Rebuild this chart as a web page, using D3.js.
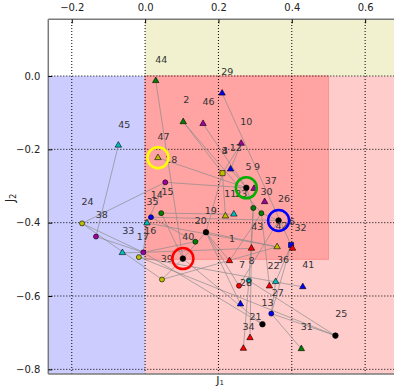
<!DOCTYPE html>
<html>
<head>
<meta charset="utf-8">
<script src="https://cdn.jsdelivr.net/npm/d3@7"></script>
<style>
  html, body { margin: 0; padding: 0; background: #fff; }
  svg { display: block; font-family: "DejaVu Sans", sans-serif; }
</style>
</head>
<body>
<svg id="chart" width="394" height="387"></svg>
<script>
// Axis ticks
const xTicks = [-0.2, 0.0, 0.2, 0.4, 0.6];
const yTicks = [0.0, -0.2, -0.4, -0.6, -0.8];

// Points in (J1, J2) space
const markerIds = ["T44","T2","T46","T29","T10","T47","S3","T5","Kg","Tp","T30","G1","G2","Kb","T19a","T19b","K20","G40","C15","C35","G14","T16","C24","C38","T45","T33","C17a","C17b","K39","C39b","T1a","T1b","S32","T32b","T7","C28","C28b","T22","T27","T41","T13","C13","K21","K25","T34a","T34b","T31"];
const markerJ1  = [0.029,0.104,0.158,0.210,0.262,0.035,0.211,0.233,0.276,0.297,0.326,0.295,0.317,0.364,0.219,0.242,0.166,0.137,0.055,0.016,0.044,0.005,-0.172,-0.134,-0.073,-0.062,-0.017,-0.005,0.103,0.046,0.290,0.360,0.398,0.402,0.230,0.256,0.283,0.339,0.356,0.430,0.260,0.344,0.320,0.519,0.286,0.268,0.426];
const markerJ2  = [-0.013,-0.125,-0.130,-0.047,-0.184,-0.223,-0.265,-0.254,-0.305,-0.307,-0.343,-0.360,-0.374,-0.394,-0.382,-0.377,-0.426,-0.452,-0.290,-0.385,-0.374,-0.401,-0.402,-0.438,-0.189,-0.482,-0.494,-0.481,-0.498,-0.555,-0.470,-0.466,-0.461,-0.470,-0.504,-0.572,-0.558,-0.573,-0.561,-0.575,-0.622,-0.648,-0.677,-0.708,-0.714,-0.743,-0.744];
// Marker class: shape + colour code
const markerClass = ["g^","g^","m^","b^","m^","y^","ys","b^","ko","m^","m^","go","go","ko","y^","c^","ko","go","mo","bo","go","c^","yo","mo","c^","c^","yo","mo","ko","yo","r^","y^","bs","r^","r^","ro","co","r^","c^","b^","b^","bo","ko","ko","r^","r^","g^"];

// Connections between points
const linkFrom = ["T44","T2","T2","T46","T29","T10","T10","T5","T47","C15","S3","S3","Kg","G1","G1","G2","G2","G2","Kb","C35","T19b","K20","K20","K20","K20","K20","C35","G14","C15","C15","T16","T16","C24","C24","T45","C38","T33","C17b","C17b","C17b","C17a","C17a","K39","K39","C39b","S32","S32","T27","C13","C13","C28b","C28b","T1a"];
const linkTo   = ["K39","G2","S3","Kg","S32","S3","T5","Kg","Kg","Kg","K20","T19a","G1","T1a","C28b","T7","T22","Kb","C28","Kb","G14","T13","T7","C28","K39","T1b","G40","K39","T16","C24","C17b","T1b","C17b","C39b","C38","C17b","C17b","G40","T1a","K21","K25","T41","C39b","K21","T1b","C13","T27","C13","K25","T31","K25","T34b","T34a"];

// Point labels
const labelText = ["44","29","2","46","10","45","47","12","3","4","18","5","9","37","14","15","11","23","30","26","35","24","38","19","20","33","16","17","43","42","6","32","40","1","39","8","7","22","36","41","28","27","13","25","21","31","34"];
const labelJ1   = [0.044,0.224,0.112,0.173,0.276,-0.057,0.050,0.247,0.217,0.217,0.071,0.282,0.305,0.343,0.032,0.061,0.232,0.262,0.331,0.379,0.020,-0.157,-0.118,0.179,0.152,-0.046,0.014,-0.006,0.306,0.372,0.400,0.424,0.118,0.237,0.059,0.290,0.264,0.350,0.376,0.445,0.275,0.362,0.334,0.535,0.301,0.441,0.282];
const labelJ2   = [0.044,0.012,-0.065,-0.070,-0.125,-0.131,-0.165,-0.194,-0.203,-0.203,-0.229,-0.247,-0.247,-0.286,-0.323,-0.315,-0.320,-0.320,-0.316,-0.335,-0.343,-0.343,-0.377,-0.367,-0.395,-0.422,-0.420,-0.438,-0.411,-0.409,-0.397,-0.413,-0.437,-0.444,-0.499,-0.503,-0.515,-0.517,-0.501,-0.515,-0.563,-0.590,-0.618,-0.647,-0.657,-0.682,-0.682];

// Highlighted points
const highlightIds = ["T47","Kg","Kb","K39"];
const highlightColors = ["#ffff00","#00b000","#0000ff","#ff0000"];

// Region boundaries
const j1Split = 0.0, j2Split = 0.0;
const boxJ1 = 0.5, boxJ2 = -0.5;

const svg = d3.select("#chart");
const x = d3.scaleLinear().domain([-0.264, 0.70]).range([48.3, 401.8]);
const y = d3.scaleLinear().domain([-0.8127, 0.1546]).range([374, 19.3]);
const [x0, x1] = x.domain(), [y0, y1] = y.domain();

svg.append("clipPath").attr("id", "plot").append("rect")
  .attr("x", x(x0)).attr("y", y(y1)).attr("width", x(x1) - x(x0)).attr("height", y(y0) - y(y1));
const plot = svg.append("g").attr("clip-path", "url(#plot)");

function region(a, b, c, d, fill, stroke) {
  plot.append("rect")
    .attr("x", x(Math.min(a, b))).attr("width", Math.abs(x(b) - x(a)))
    .attr("y", y(Math.max(c, d))).attr("height", Math.abs(y(d) - y(c)))
    .attr("fill", fill).attr("stroke", stroke || "none").attr("stroke-width", 1);
}
region(j1Split, x1, j2Split, y1, "#f1f1cf");
region(x0, j1Split, y0, j2Split, "#ccccff");
region(j1Split, x1, y0, j2Split, "#ffcccc");
region(j1Split, boxJ1, boxJ2, j2Split, "#ffa3a3", "#ff9090");

// dotted grid
const grid = plot.append("g").attr("stroke", "#000").attr("stroke-width", 1).attr("stroke-dasharray", "1,2");
xTicks.forEach(t => grid.append("line").attr("x1", x(t)).attr("x2", x(t)).attr("y1", y(y0)).attr("y2", y(y1)));
yTicks.forEach(t => grid.append("line").attr("y1", y(t)).attr("y2", y(t)).attr("x1", x(x0)).attr("x2", x(x1)));

// links
const idx = new Map(markerIds.map((id, i) => [id, i]));
const links = linkFrom.map((f, i) => [idx.get(f), idx.get(linkTo[i])]);
plot.append("g").selectAll("line").data(links).join("line")
  .attr("x1", d => x(markerJ1[d[0]])).attr("y1", d => y(markerJ2[d[0]]))
  .attr("x2", d => x(markerJ1[d[1]])).attr("y2", d => y(markerJ2[d[1]]))
  .attr("stroke", "#8a8a8a").attr("stroke-opacity", 0.85).attr("stroke-width", 0.8);

// markers
const colorMap = { g: "#008000", b: "#0000ff", m: "#a000a0", r: "#ff0000", c: "#00bfbf", y: "#bfbf00", k: "#000000" };
const pts = markerIds.map((id, i) => ({ id, j1: markerJ1[i], j2: markerJ2[i], cls: markerClass[i] }));
const mg = plot.append("g");
pts.forEach(p => {
  const col = colorMap[p.cls[0]], shape = p.cls[1];
  const cx = x(p.j1), cy = y(p.j2);
  if (shape === "^") {
    mg.append("path").attr("d", d3.symbol(d3.symbolTriangle, 18)())
      .attr("transform", `translate(${cx},${cy})`).attr("fill", col).attr("stroke", "#000").attr("stroke-width", 0.6);
  } else if (shape === "s") {
    mg.append("path").attr("d", d3.symbol(d3.symbolSquare, 26)())
      .attr("transform", `translate(${cx},${cy})`).attr("fill", col).attr("stroke", "#000").attr("stroke-width", 0.6);
  } else {
    mg.append("circle").attr("cx", cx).attr("cy", cy).attr("r", p.cls[0] === "k" ? 2.8 : 2.5)
      .attr("fill", col).attr("stroke", "#000").attr("stroke-width", 0.6);
  }
});

// labels
plot.append("g").selectAll("text").data(labelText).join("text")
  .attr("x", (d, i) => x(labelJ1[i])).attr("y", (d, i) => y(labelJ2[i]))
  .attr("text-anchor", "middle").attr("dominant-baseline", "central")
  .attr("font-size", 9.5).attr("fill", "#333").text(d => d);

// highlight rings
plot.append("g").selectAll("circle").data(highlightIds).join("circle")
  .attr("cx", d => x(markerJ1[idx.get(d)])).attr("cy", d => y(markerJ2[idx.get(d)]))
  .attr("r", 10.5).attr("fill", "none")
  .attr("stroke", (d, i) => highlightColors[i]).attr("stroke-width", 2.5);

// frame
const frame = svg.append("g").attr("stroke", "#7a7a7a").attr("stroke-width", 1.5).attr("fill", "none");
frame.append("line").attr("x1", x(x0)).attr("x2", x(x0)).attr("y1", y(y1)).attr("y2", y(y0));
frame.append("line").attr("x1", x(x0)).attr("x2", x(x1)).attr("y1", y(y1)).attr("y2", y(y1));
frame.append("line").attr("x1", x(x0)).attr("x2", x(x1)).attr("y1", y(y0)).attr("y2", y(y0));

// axes: top and left
const fmt = v => (v < 0 ? "\u2212" : "") + Math.abs(v).toFixed(1);
const topAxis = d3.axisTop(x).tickValues(xTicks).tickFormat(fmt).tickSizeInner(-4).tickSizeOuter(0).tickPadding(8);
const leftAxis = d3.axisLeft(y).tickValues(yTicks).tickFormat(fmt).tickSizeInner(-4).tickSizeOuter(0).tickPadding(8);
const gt = svg.append("g").attr("transform", `translate(0,${y(y1)})`).call(topAxis);
const gl = svg.append("g").attr("transform", `translate(${x(x0)},0)`).call(leftAxis);
[gt, gl].forEach(g => {
  g.select(".domain").remove();
  g.selectAll(".tick line").attr("stroke", "#000");
  g.selectAll(".tick text").attr("font-size", 10).attr("fill", "#222").attr("font-family", "DejaVu Sans, sans-serif");
});

// axis titles
const t1 = svg.append("text").attr("x", 220).attr("y", 384).attr("font-size", 11).attr("fill", "#222").attr("text-anchor", "middle");
t1.append("tspan").text("J");
t1.append("tspan").attr("font-size", 7).attr("dy", 1).text("1");
const t2 = svg.append("text").attr("transform", "translate(14,198) rotate(-90)").attr("font-size", 12).attr("fill", "#222").attr("text-anchor", "middle");
t2.append("tspan").text("J");
t2.append("tspan").attr("font-size", 8).attr("dy", 2).text("2");
</script>
</body>
</html>
